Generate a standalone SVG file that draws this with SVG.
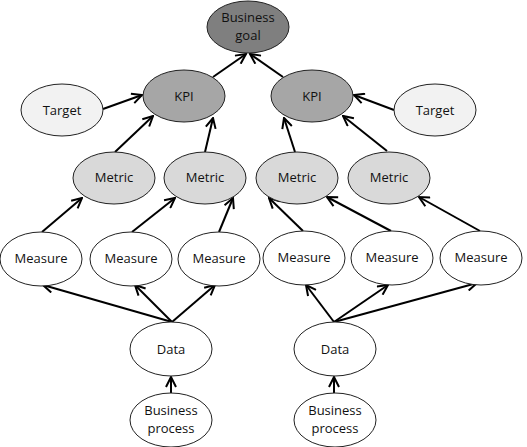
<svg xmlns="http://www.w3.org/2000/svg" width="527" height="447" viewBox="0 0 527 447">
<style>
.n ellipse{stroke:#222;stroke-width:1}
.n text{font-family:"Open Sans","Liberation Sans",sans-serif;font-size:13px;fill:#111;text-anchor:middle}
.goal ellipse{fill:#7f7f7f}
.kpi ellipse{fill:#a6a6a6}
.met ellipse{fill:#d9d9d9}
.tgt ellipse{fill:#f2f2f2}
.mea ellipse,.dat ellipse{fill:#fff}
#edges line{stroke:#000;stroke-width:2;marker-end:url(#ah)}
</style>
<defs>
<marker id="ah" viewBox="0 0 12 12" refX="11" refY="6" markerWidth="12" markerHeight="12" markerUnits="userSpaceOnUse" orient="auto">
<path d="M1,1 L11,6 L1,11" fill="none" stroke="#000" stroke-width="2"/>
</marker>
</defs>
<rect width="527" height="447" fill="#fff"/>
<g id="edges">
<line x1="213" y1="77" x2="246" y2="54"/>
<line x1="283" y1="77" x2="250" y2="54"/>
<line x1="103" y1="109" x2="142" y2="95"/>
<line x1="394" y1="110" x2="354" y2="95"/>
<line x1="115" y1="152" x2="153" y2="116"/>
<line x1="205" y1="152" x2="213" y2="118"/>
<line x1="295" y1="152" x2="284" y2="118"/>
<line x1="387" y1="151" x2="343" y2="116"/>
<line x1="42" y1="232" x2="82" y2="198"/>
<line x1="132" y1="232" x2="175" y2="198"/>
<line x1="219" y1="232" x2="233" y2="198"/>
<line x1="303" y1="231" x2="269" y2="198"/>
<line x1="391" y1="231" x2="327" y2="197"/>
<line x1="480" y1="231" x2="419" y2="197"/>
<line x1="172" y1="322" x2="43" y2="285"/>
<line x1="172" y1="322" x2="135" y2="285"/>
<line x1="172" y1="322" x2="215" y2="285"/>
<line x1="334" y1="322" x2="306" y2="285"/>
<line x1="334" y1="322" x2="388" y2="285"/>
<line x1="334" y1="322" x2="477" y2="283"/>
<line x1="171" y1="393" x2="171" y2="377"/>
<line x1="334" y1="393" x2="334" y2="377"/>
</g>
<g id="goal" class="n goal"><ellipse cx="248" cy="27" rx="41" ry="26"/><text x="248" y="22">Business</text><text x="248" y="40">goal</text></g>
<g id="kpi1" class="n kpi"><ellipse cx="184" cy="96" rx="41" ry="26"/><text x="184" y="101">KPI</text></g>
<g id="kpi2" class="n kpi"><ellipse cx="312" cy="96" rx="41" ry="26"/><text x="312" y="101">KPI</text></g>
<g id="target1" class="n tgt"><ellipse cx="62" cy="110" rx="41" ry="26"/><text x="62" y="115">Target</text></g>
<g id="target2" class="n tgt"><ellipse cx="435" cy="110" rx="41" ry="26"/><text x="435" y="115">Target</text></g>
<g id="metric1" class="n met"><ellipse cx="114" cy="178" rx="41" ry="26"/><text x="114" y="182">Metric</text></g>
<g id="metric2" class="n met"><ellipse cx="205" cy="178" rx="41" ry="26"/><text x="205" y="182">Metric</text></g>
<g id="metric3" class="n met"><ellipse cx="297" cy="178" rx="41" ry="26"/><text x="297" y="182">Metric</text></g>
<g id="metric4" class="n met"><ellipse cx="389" cy="178" rx="41" ry="26"/><text x="389" y="182">Metric</text></g>
<g id="measure1" class="n mea"><ellipse cx="41" cy="259" rx="41" ry="27"/><text x="41" y="263">Measure</text></g>
<g id="measure2" class="n mea"><ellipse cx="131" cy="259" rx="41" ry="27"/><text x="131" y="263">Measure</text></g>
<g id="measure3" class="n mea"><ellipse cx="219" cy="259" rx="41" ry="27"/><text x="219" y="263">Measure</text></g>
<g id="measure4" class="n mea"><ellipse cx="304" cy="258" rx="41" ry="27"/><text x="304" y="262">Measure</text></g>
<g id="measure5" class="n mea"><ellipse cx="392" cy="258" rx="41" ry="27"/><text x="392" y="262">Measure</text></g>
<g id="measure6" class="n mea"><ellipse cx="481" cy="258" rx="41" ry="27"/><text x="481" y="262">Measure</text></g>
<g id="data1" class="n dat"><ellipse cx="171" cy="349" rx="41" ry="27"/><text x="171" y="354">Data</text></g>
<g id="data2" class="n dat"><ellipse cx="335" cy="349" rx="41" ry="27"/><text x="335" y="354">Data</text></g>
<g id="process1" class="n dat"><ellipse cx="171" cy="420" rx="41" ry="27"/><text x="171" y="415">Business</text><text x="171" y="433">process</text></g>
<g id="process2" class="n dat"><ellipse cx="335" cy="420" rx="41" ry="27"/><text x="335" y="415">Business</text><text x="335" y="433">process</text></g>
</svg>
